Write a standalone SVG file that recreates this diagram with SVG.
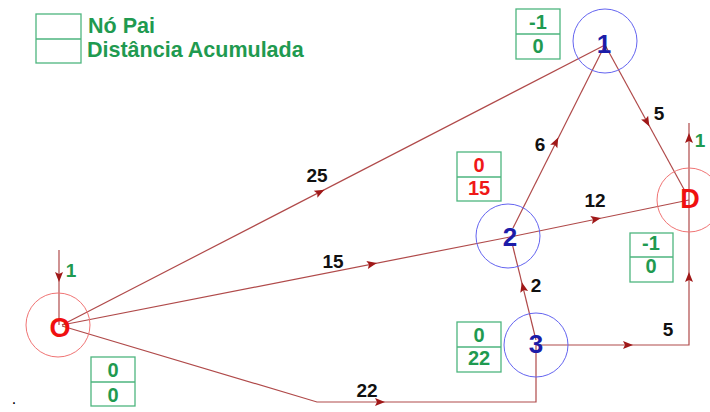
<svg xmlns="http://www.w3.org/2000/svg" xmlns:xlink="http://www.w3.org/1999/xlink" width="710" height="412" viewBox="0 0 710 412">
<style>
  text { font-family: "Liberation Sans", Arial, sans-serif; font-weight: bold; text-anchor: middle; }
  .edge { fill: none; stroke: #b04a4a; stroke-width: 1.2; }
  .arrow { fill: #a01818; }
  .box { fill: none; stroke: #4db57e; stroke-width: 1.3; }
  .bt { font-size: 20px; fill: #1f9a50; }
  .bt.red { fill: #f01818; }
  .lbl { font-size: 19px; fill: #111; }
  .gl { font-size: 19px; fill: #1f9a50; }
  .leg { font-size: 21.5px; fill: #1f9a50; text-anchor: start; }
  .cb { fill: none; stroke: #6464f0; stroke-width: 1; }
  .cr { fill: none; stroke: #f07474; stroke-width: 1; }
  .nb { font-size: 26px; fill: #1c1ca8; }
  .nr { font-size: 27px; fill: #f01010; }
</style>
<defs>
  <path id="ah" class="arrow" d="M5,0 L-5,-4 L-3,0 L-5,4 Z"/>
</defs>
<rect width="710" height="412" fill="#ffffff"/>

<g id="legend">
  <rect class="box" x="36" y="14" width="45" height="49"/>
  <line class="box" x1="36" y1="39" x2="81" y2="39"/>
  <text class="leg" x="88" y="33">Nó Pai</text>
  <text class="leg" x="87" y="57">Distância Acumulada</text>
</g>

<g id="connectors">
  <path class="edge" d="M59,250 L59,325"/>
  <path class="edge" d="M62,325 L605,45"/>
  <path class="edge" d="M62,325 L510,237"/>
  <path class="edge" d="M510,237 L689,200"/>
  <path class="edge" d="M513,228 L605,45"/>
  <path class="edge" d="M605,45 L686,193"/>
  <path class="edge" d="M536,340 L512,243"/>
  <path class="edge" d="M62,326 L317,402 L536,402 L536,345"/>
  <path class="edge" d="M536,345 L689,345 L689,123"/>
  <use xlink:href="#ah" transform="translate(59,277) rotate(90)"/>
  <use xlink:href="#ah" transform="translate(320,192) rotate(-27.3)"/>
  <use xlink:href="#ah" transform="translate(372,264) rotate(-11.1)"/>
  <use xlink:href="#ah" transform="translate(596,219) rotate(-11.7)"/>
  <use xlink:href="#ah" transform="translate(556,142) rotate(-63.3)"/>
  <use xlink:href="#ah" transform="translate(647,122) rotate(61.3)"/>
  <use xlink:href="#ah" transform="translate(523,287) rotate(-103.9)"/>
  <use xlink:href="#ah" transform="translate(380,402)"/>
  <use xlink:href="#ah" transform="translate(628,345)"/>
  <use xlink:href="#ah" transform="translate(689,277) rotate(-90)"/>
  <use xlink:href="#ah" transform="translate(689,138) rotate(-90)"/>
  <text class="lbl" x="317" y="182">25</text>
  <text class="lbl" x="333" y="268">15</text>
  <text class="lbl" x="595" y="207">12</text>
  <text class="lbl" x="540" y="151">6</text>
  <text class="lbl" x="659" y="120">5</text>
  <text class="lbl" x="536" y="292">2</text>
  <text class="lbl" x="367" y="397">22</text>
  <text class="lbl" x="668" y="336">5</text>
  <text class="gl" x="71" y="277">1</text>
  <text class="gl" x="700" y="147">1</text>
</g>

<g id="node-O">
  <circle class="cr" cx="58" cy="325" r="32"/>
  <text class="nr" x="60" y="337">O</text>
  <rect class="box" x="91" y="357" width="44" height="49"/>
  <line class="box" x1="91" y1="382" x2="135" y2="382"/>
  <text class="bt" x="113" y="377">0</text>
  <text class="bt" x="113" y="402">0</text>
</g>

<g id="node-1">
  <circle class="cb" cx="605" cy="41" r="32"/>
  <text class="nb" x="604" y="53">1</text>
  <rect class="box" x="516" y="9" width="44" height="50"/>
  <line class="box" x1="516" y1="34" x2="560" y2="34"/>
  <text class="bt" x="538" y="29">-1</text>
  <text class="bt" x="538" y="53">0</text>
</g>

<g id="node-2">
  <circle class="cb" cx="508" cy="236" r="32"/>
  <text class="nb" x="510" y="246">2</text>
  <rect class="box" x="457" y="152" width="44" height="49"/>
  <line class="box" x1="457" y1="177" x2="501" y2="177"/>
  <text class="bt red" x="479" y="172">0</text>
  <text class="bt red" x="479" y="195">15</text>
</g>

<g id="node-3">
  <circle class="cb" cx="536" cy="345" r="32"/>
  <text class="nb" x="536" y="353">3</text>
  <rect class="box" x="457" y="322" width="44" height="50"/>
  <line class="box" x1="457" y1="347" x2="501" y2="347"/>
  <text class="bt" x="479" y="342">0</text>
  <text class="bt" x="479" y="365">22</text>
</g>

<g id="node-D">
  <circle class="cr" cx="689" cy="200" r="32"/>
  <text class="nr" x="690" y="208">D</text>
  <rect class="box" x="630" y="233" width="43" height="49"/>
  <line class="box" x1="630" y1="257" x2="673" y2="257"/>
  <text class="bt" x="651" y="250">-1</text>
  <text class="bt" x="651" y="273">0</text>
</g>

<text x="14" y="404" style="font-size:16px;fill:#000;font-weight:normal">.</text>
</svg>
